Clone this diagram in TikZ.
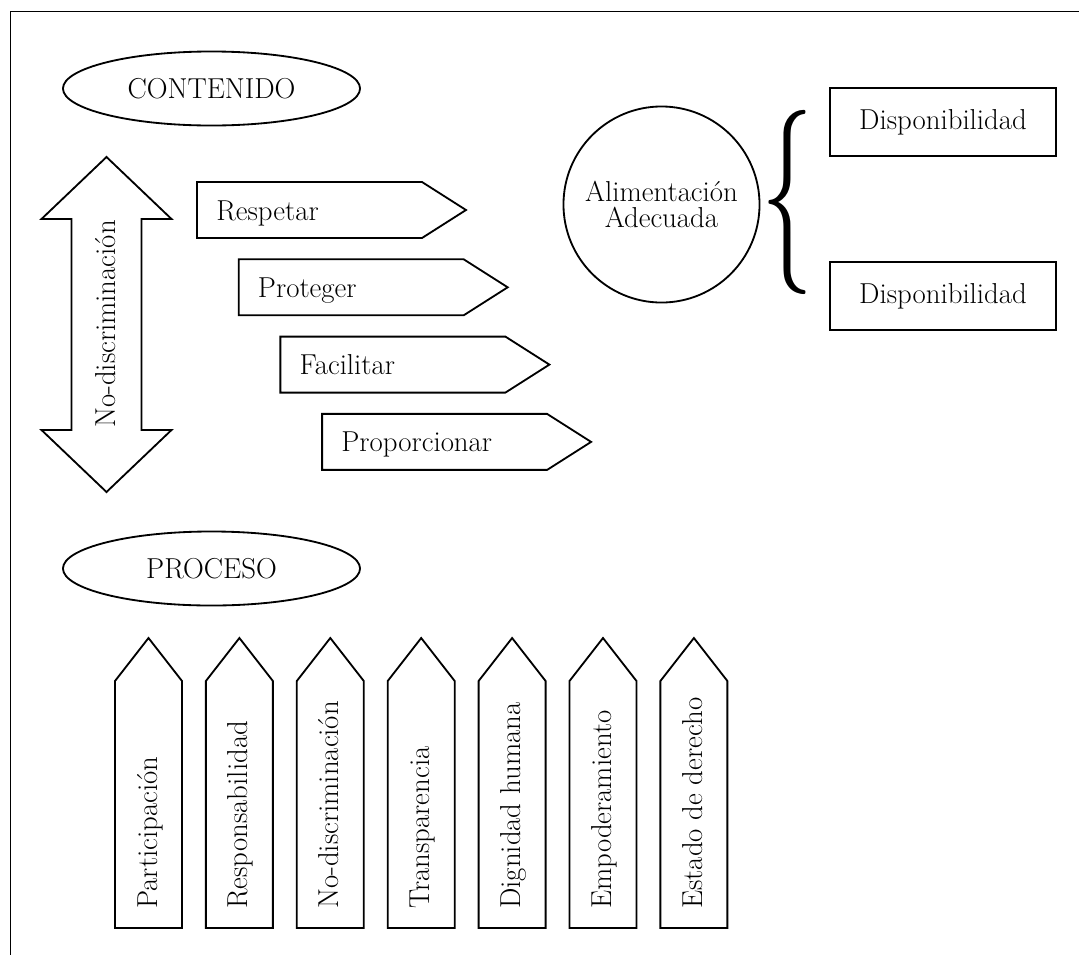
\documentclass[tikz,border=0pt]{standalone}
\usepackage{graphicx}
\usetikzlibrary{shapes.geometric, positioning}
\tikzstyle{oval} = [ellipse,draw,line width=1.3pt,minimum width=7.425cm,minimum height=1.85cm,inner sep=0pt]
\tikzstyle{boxnode} = [rectangle,draw,line width=1.3pt,minimum width=5.65cm,minimum height=1.7cm,inner sep=0pt]
\tikzstyle{roundnode} = [circle,draw,line width=1.3pt,minimum size=4.9cm,align=center,inner sep=0pt]
\tikzstyle{lbl} = [inner sep=0pt]
\tikzstyle{shapeline} = [line width=1.3pt,line join=miter]

\begin{document}
\begin{tikzpicture}[x=0.025cm,y=-0.025cm,font=\fontsize{20.5}{19}\selectfont]
\useasboundingbox (0,0) rectangle (1079,955);
% frame
\draw[line width=0.6pt] (1079,11) -- (10,11) -- (10,955);

% contenido
\node[oval] (cont) at (211.5,88.5) {CONTENIDO};
\draw[shapeline] (106.5,157) -- (171.5,219) -- (141.5,219) -- (141.5,430) -- (171.5,430)
	-- (106.5,492) -- (41.5,430) -- (71.5,430) -- (71.5,219) -- (41.5,219) -- cycle;
\node[lbl,rotate=90,anchor=base] (nodisc) at (115,324) {No-discriminación};

\foreach \lbl [count=\i from 0] in {Respetar,Proteger,Facilitar,Proporcionar}{
	\pgfmathsetmacro\xa{197+41.7*\i}
	\pgfmathsetmacro\ya{182+77.3*\i}
	\draw[shapeline] (\xa,\ya) -- ++(225,0) -- ++(44,28) -- ++(-44,28) -- ++(-225,0) -- cycle;
	\node[lbl,anchor=base west] (obl\i) at (\xa+19,\ya+38) {\lbl};
}

% alimentacion
\node[roundnode] (alim) at (661.5,204.5) {Alimentación\\Adecuada};
\node[lbl] (brace) at (787.5,202.5) {\resizebox*{1.3cm}{4.6cm}{\{}};
\node[boxnode] (disp1) at (943,122) {Disponibilidad};
\node[boxnode,below=2.6cm of disp1.south,anchor=north] (disp2) {Disponibilidad};

% proceso
\node[oval] (proc) at (211.5,568.5) {PROCESO};
\foreach \lbl [count=\i from 0] in {Participación,Responsabilidad,No-discriminación,Transparencia,Dignidad humana,Empoderamiento,Estado de derecho}{
	\pgfmathsetmacro\xa{115+90.9*\i}
	\draw[shapeline] (\xa,681) -- ++(33.5,-43) -- ++(33.5,43) -- (\xa+67,928) -- (\xa,928) -- cycle;
	\node[lbl,rotate=90,anchor=base west] (pri\i) at (\xa+42,909) {\lbl};
}
\end{tikzpicture}
\end{document}
